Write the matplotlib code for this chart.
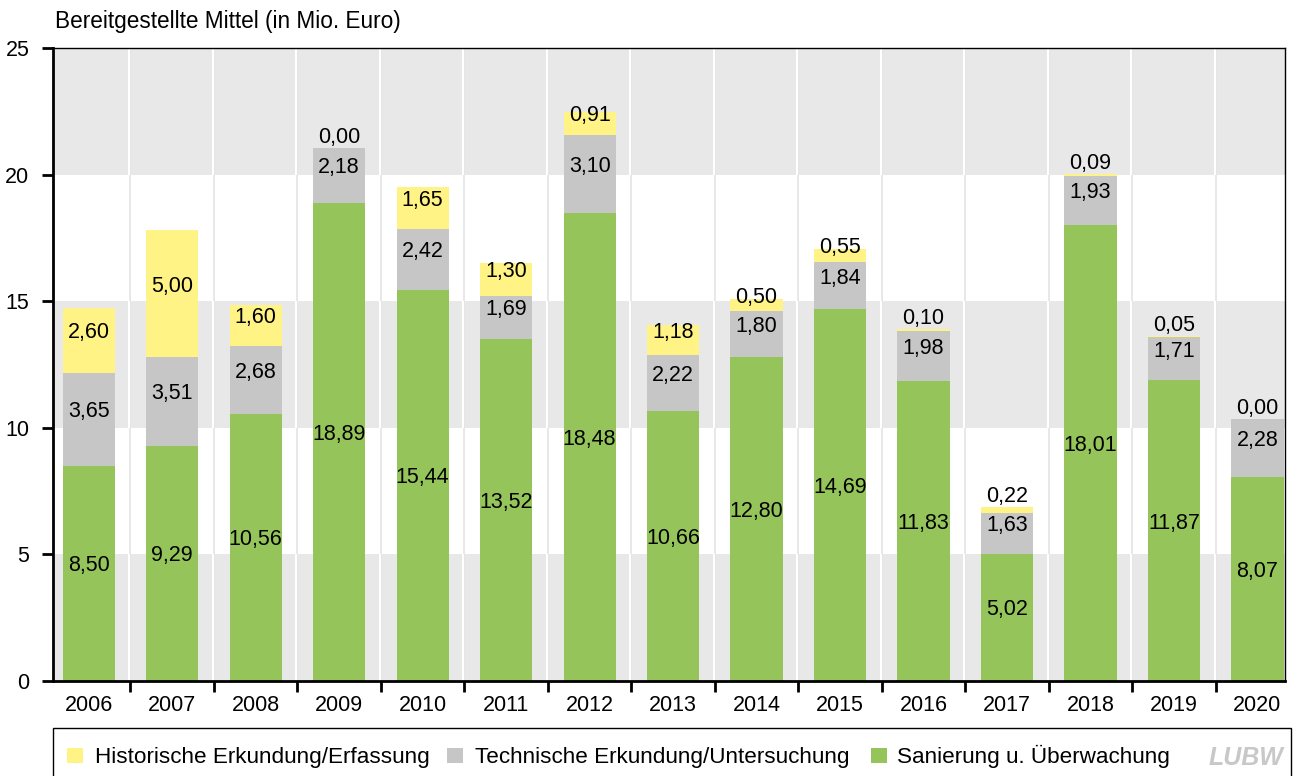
import matplotlib.pyplot as plt
from matplotlib.patches import Rectangle
import numpy as np

plt.rcParams['font.family'] = ['Liberation Sans', 'DejaVu Sans']

# Daten (in Mio. Euro)
jahre = ['2006', '2007', '2008', '2009', '2010', '2011', '2012', '2013',
         '2014', '2015', '2016', '2017', '2018', '2019', '2020']
sanierung = [8.50, 9.29, 10.56, 18.89, 15.44, 13.52, 18.48, 10.66,
             12.80, 14.69, 11.83, 5.02, 18.01, 11.87, 8.07]
technisch = [3.65, 3.51, 2.68, 2.18, 2.42, 1.69, 3.10, 2.22,
             1.80, 1.84, 1.98, 1.63, 1.93, 1.71, 2.28]
historisch = [2.60, 5.00, 1.60, 0.00, 1.65, 1.30, 0.91, 1.18,
              0.50, 0.55, 0.10, 0.22, 0.09, 0.05, 0.00]

c_gruen = '#95C55A'
c_grau = '#C6C6C6'
c_gelb = '#FFF385'
c_band = '#E8E8E8'

W, H = 1293, 776
fig = plt.figure(figsize=(W / 100, H / 100), dpi=100)
ax = fig.add_axes([53 / W, 1 - 681 / H, (1285 - 53) / W, (681 - 48) / H])

x = np.arange(len(jahre))
ax.set_xlim(-0.428, 14.33)
ax.set_ylim(0, 25)

# Hintergrundbaender und Trennlinien
for y0 in (0, 10, 20):
    ax.axhspan(y0, y0 + 5, color=c_band, lw=0, zorder=0)
for b in np.arange(0.5, 14.5, 1):
    ax.axvline(b, color='#E4E4E4', lw=1.2, zorder=0.5)
    for y0 in (0, 10, 20):
        ax.vlines(b - 0.012, y0, y0 + 5, color='white', lw=1.5, zorder=0.6)

breite = 0.625
san = np.array(sanierung)
tec = np.array(technisch)
his = np.array(historisch)
ax.bar(x, san, breite, color=c_gruen, zorder=2)
ax.bar(x, tec, breite, bottom=san, color=c_grau, zorder=2)
ax.bar(x, his, breite, bottom=san + tec, color=c_gelb, zorder=2)

def fmt(v):
    return f'{v:.2f}'.replace('.', ',')

fs = 15.5
for i in x:
    ax.text(i, san[i] / 2 + 0.3, fmt(san[i]), ha='center', va='center', fontsize=fs, zorder=3)
    ax.text(i, san[i] + tec[i] / 2 + 0.3, fmt(tec[i]), ha='center', va='center', fontsize=fs, zorder=3)
    top = san[i] + tec[i] + his[i]
    if his[i] >= 0.5:
        yl = san[i] + tec[i] + his[i] / 2 + 0.3
    else:
        yl = top + 0.4
    ax.text(i, yl, fmt(his[i]), ha='center', va='center', fontsize=fs, zorder=3)

# Achsen
ax.set_yticks([0, 5, 10, 15, 20, 25])
ax.set_xticks(x)
ax.set_xticklabels(jahre)
ax.set_xticks(np.arange(0.5, 14, 1), minor=True)
ax.tick_params(axis='x', which='major', length=0, labelsize=fs, pad=10)
ax.tick_params(axis='x', which='minor', length=8, width=2)
ax.tick_params(axis='y', length=8, width=2, labelsize=fs, pad=9)
for s in ('left', 'bottom'):
    ax.spines[s].set_linewidth(2)
for s in ('top', 'right'):
    ax.spines[s].set_linewidth(1)

fig.text(55 / W, 1 - 28 / H, 'Bereitgestellte Mittel (in Mio. Euro)', fontsize=16.3,
         ha='left', va='baseline')

# Legende
fig.patches.append(Rectangle((53 / W, -0.01), (1291 - 53) / W, 0.01 + 1 - 728 / H,
                             transform=fig.transFigure, fill=False, ec='black', lw=1))
eintraege = [(67, 95, c_gelb, 'Historische Erkundung/Erfassung'),
             (447, 475, c_grau, 'Technische Erkundung/Untersuchung'),
             (871, 897, c_gruen, 'Sanierung u. Überwachung')]
for qx, tx, col, txt in eintraege:
    fig.patches.append(Rectangle((qx / W, 1 - 763 / H), 16 / W, 15 / H,
                                 transform=fig.transFigure, color=col, lw=0))
    fig.text(tx / W, 1 - 763 / H, txt, fontsize=16.2, ha='left', va='baseline')
fig.text(1246 / W, 1 - 765 / H, 'LUBW', fontsize=18, fontweight='bold', style='italic',
         family=['Liberation Sans Narrow', 'Liberation Sans'],
         color='#C8C8C8', ha='center', va='baseline')

fig.savefig('out.png', dpi=100)
